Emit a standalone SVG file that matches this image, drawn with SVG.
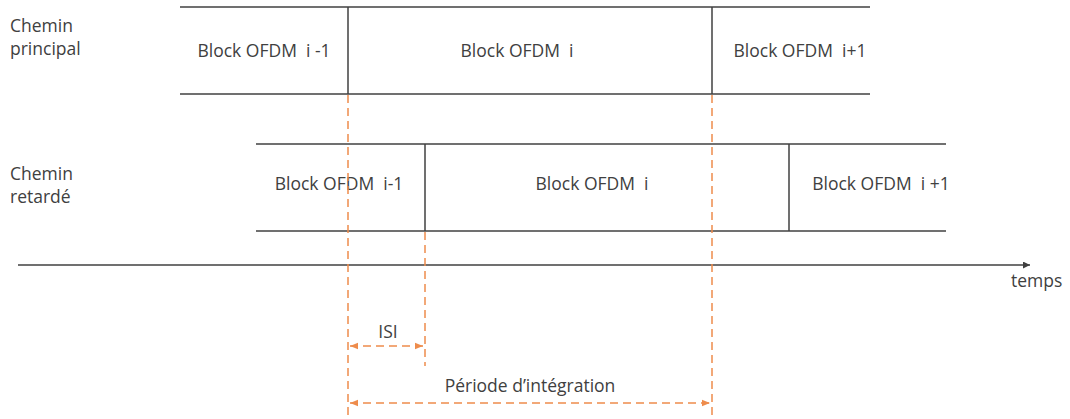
<svg xmlns="http://www.w3.org/2000/svg" width="1070" height="419" viewBox="0 0 1070 419">
<style>
.t{font-family:"Open Sans","Liberation Sans",sans-serif;font-size:17.5px;fill:#404040;white-space:pre}
.c{text-anchor:middle}
.ln{stroke:#404040;stroke-width:1.5;fill:none}
.d{stroke:#EE8C4C;stroke-width:1.5;stroke-dasharray:8 5;fill:none}
</style>
<defs>
<marker id="ah" viewBox="0 0 10 10" refX="10" refY="5" markerWidth="7" markerHeight="7" orient="auto-start-reverse" markerUnits="userSpaceOnUse"><path d="M0,0 L10,5 L0,10 z" fill="#404040"/></marker>
<marker id="oh" viewBox="0 0 10 10" refX="10" refY="5" markerWidth="8" markerHeight="8" orient="auto-start-reverse" markerUnits="userSpaceOnUse"><path d="M0,1 L10,5 L0,9 z" fill="#EE8C4C"/></marker>
</defs>
<rect width="1070" height="419" fill="#fff"/>
<g id="labels">
<text class="t" x="10" y="32">Chemin</text>
<text class="t" x="10" y="55">principal</text>
<text class="t" x="10" y="180">Chemin</text>
<text class="t" x="10" y="203">retardé</text>
</g>
<g id="row1">
<line class="ln" x1="180" y1="7" x2="870" y2="7"/>
<line class="ln" x1="180" y1="94" x2="870" y2="94"/>
<line class="ln" x1="348" y1="7" x2="348" y2="94"/>
<line class="ln" x1="712" y1="7" x2="712" y2="94"/>
</g>
<g id="b1"><text class="t c" x="264" y="57" xml:space="preserve">Block OFDM  i -1</text></g>
<g id="b2"><text class="t c" x="517" y="57" xml:space="preserve">Block OFDM  i</text></g>
<g id="b3"><text class="t c" x="800" y="57" xml:space="preserve">Block OFDM  i+1</text></g>
<g id="row2">
<line class="ln" x1="256" y1="144" x2="946" y2="144"/>
<line class="ln" x1="256" y1="231" x2="946" y2="231"/>
<line class="ln" x1="425" y1="144" x2="425" y2="231"/>
<line class="ln" x1="789" y1="144" x2="789" y2="231"/>
</g>
<g id="b4"><text class="t c" x="339" y="190" xml:space="preserve">Block OFDM  i-1</text></g>
<g id="b5"><text class="t c" x="592" y="190" xml:space="preserve">Block OFDM  i</text></g>
<g id="b6"><text class="t c" x="881" y="190" xml:space="preserve">Block OFDM  i +1</text></g>
<g id="connectors">
<line class="ln" x1="18" y1="265" x2="1030" y2="265" marker-end="url(#ah)"/>
<line class="d" x1="348" y1="95" x2="348" y2="419"/>
<line class="d" x1="425" y1="232" x2="425" y2="366"/>
<line class="d" x1="712" y1="95" x2="712" y2="419"/>
<line class="d" x1="350" y1="346" x2="423" y2="346" marker-start="url(#oh)" marker-end="url(#oh)"/>
<line class="d" x1="350" y1="403" x2="710" y2="403" marker-start="url(#oh)" marker-end="url(#oh)"/>
</g>
<g id="axislabels">
<text class="t" x="1011" y="287">temps</text>
<text class="t c" x="388" y="338">ISI</text>
<text class="t c" x="530" y="392">Période d’intégration</text>
</g>
</svg>
